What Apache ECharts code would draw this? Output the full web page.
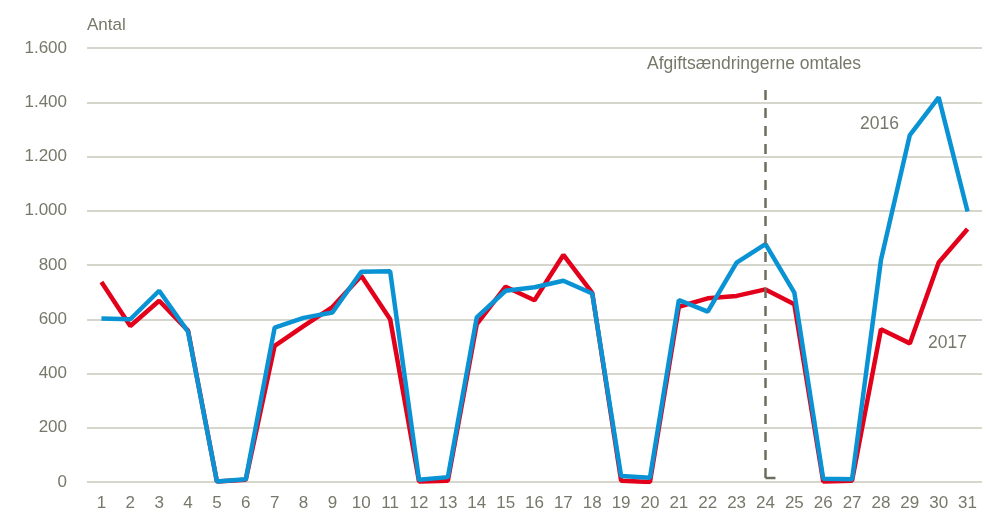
<!DOCTYPE html>
<html>
<head>
<meta charset="utf-8">
<script src="https://cdn.jsdelivr.net/npm/echarts@6/dist/echarts.min.js"></script>
<style>
  html, body { margin: 0; padding: 0; background: #fff; }
  #chart { width: 982px; height: 520px; }
</style>
</head>
<body>
<div id="chart"></div>
<script>
// dage i måneden
const days = Array.from({ length: 31 }, (_, i) => String(i + 1));
const yTicks = [0, 200, 400, 600, 800, 1000, 1200, 1400, 1600];

const values2017 = [737, 575, 668, 558, 2, 8, 502, 575, 645, 760, 600, 2, 5, 582, 720, 670, 837, 697, 5, 0,
  646, 677, 686, 710, 655, 2, 5, 563, 511, 809, 933];
const values2016 = [603, 600, 705, 554, 2, 10, 569, 605, 625, 775, 777, 8, 18, 607, 705, 718, 742, 695, 22, 16,
  671, 628, 809, 877, 698, 12, 10, 818, 1279, 1418, 997];

const eventDay = '24';
const eventTop = 1445;

const FONT = '"Liberation Sans", Arial, sans-serif';
const TEXT = '#77776a';

const chart = echarts.init(document.getElementById('chart'));

const option = {
  animation: false,
  grid: { left: 87, right: 0, top: 48, bottom: 38 },
  xAxis: {
    type: 'category',
    data: days,
    boundaryGap: true,
    axisLine: { show: false },
    axisTick: { show: false },
    axisLabel: { color: TEXT, fontFamily: FONT, fontSize: 17, margin: 13 },
  },
  yAxis: {
    type: 'value',
    min: yTicks[0],
    max: yTicks[yTicks.length - 1],
    interval: 200,
    name: 'Antal',
    nameLocation: 'end',
    nameGap: 14,
    nameTextStyle: { color: TEXT, fontFamily: FONT, fontSize: 17, align: 'left' },
    axisLine: { show: false },
    axisTick: { show: false },
    axisLabel: {
      color: TEXT, fontFamily: FONT, fontSize: 17, margin: 20,
      formatter: (v) => v.toLocaleString('de-DE'),
    },
    splitLine: { lineStyle: { color: '#c9c9bb', width: 1.5 } },
  },
  series: [
    {
      name: '2017',
      type: 'line',
      data: values2017,
      symbol: 'none',
      lineStyle: { color: '#e2001a', width: 4.5 },
      z: 2,
    },
    {
      name: '2016',
      type: 'line',
      data: values2016,
      symbol: 'none',
      lineStyle: { color: '#0a93d4', width: 4.5 },
      z: 3,
      markLine: {
        silent: true,
        symbol: 'none',
        label: { show: false },
        lineStyle: { color: '#6e6e5f', type: [10, 8], width: 2.5 },
        data: [[{ coord: [eventDay, eventTop] }, { coord: [eventDay, 0] }]],
      },
    },
  ],
  graphic: [
    {
      type: 'text', left: 647, top: 55,
      style: { text: 'Afgiftsændringerne omtales', fill: TEXT, font: '17.5px ' + FONT },
    },
    {
      type: 'text', left: 860, top: 115,
      style: { text: '2016', fill: TEXT, font: '17.5px ' + FONT },
    },
    {
      type: 'text', left: 928, top: 334,
      style: { text: '2017', fill: TEXT, font: '17.5px ' + FONT },
    },
  ],
};

chart.setOption(option);

// lille vandret streg ved foden af den stiplede linje
const foot = chart.convertToPixel({ seriesIndex: 1 }, [eventDay, 0]);
chart.setOption({
  graphic: option.graphic.concat([{
    type: 'line',
    shape: { x1: foot[0], y1: foot[1] - 4, x2: foot[0] + 10, y2: foot[1] - 4 },
    style: { stroke: '#6e6e5f', lineWidth: 2.5 },
  }]),
});
</script>
</body>
</html>
